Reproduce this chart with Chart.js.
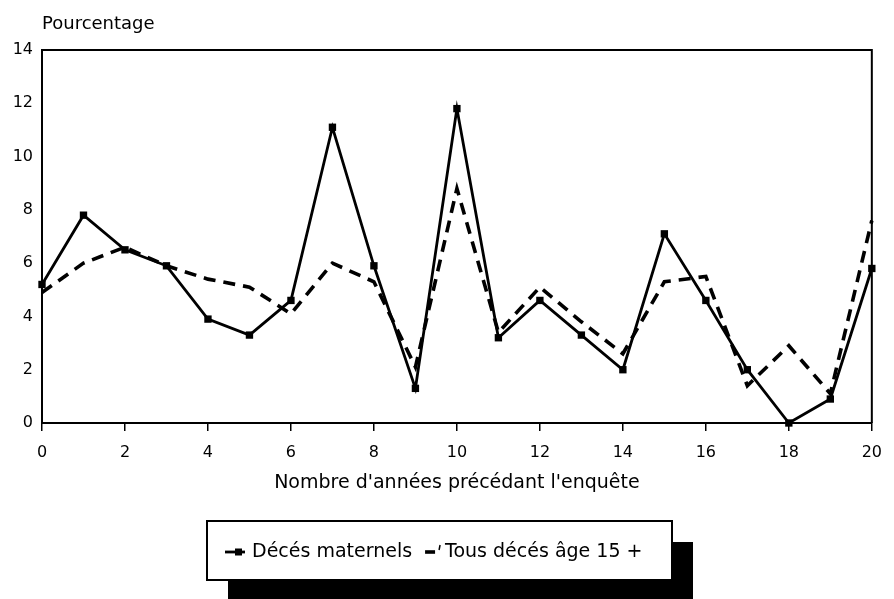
<!DOCTYPE html>
<html>
<head>
<meta charset="utf-8">
<script src="https://cdn.jsdelivr.net/npm/chart.js@4.4.1/dist/chart.umd.min.js"></script>
<style>
html,body{margin:0;padding:0;background:#fff;}
#wrap{width:894px;height:599px;position:relative;}
</style>
</head>
<body>
<div id="wrap"><canvas id="c"></canvas></div>
<script>
// ---- data ----
const years = [0,1,2,3,4,5,6,7,8,9,10,11,12,13,14,15,16,17,18,19,20];
const maternalDeaths = [5.2,7.8,6.5,5.9,3.9,3.3,4.6,11.1,5.9,1.3,11.8,3.2,4.6,3.3,2.0,7.1,4.6,2.0,0.0,0.9,5.8];
const allDeaths15 = [4.9,6.0,6.6,5.9,5.4,5.1,4.1,6.0,5.3,2.1,8.8,3.4,5.1,3.8,2.6,5.3,5.5,1.4,2.9,1.1,7.6];
const xTickValues = [0,2,4,6,8,10,12,14,16,18,20];
const yTickValues = [0,2,4,6,8,10,12,14];
const seriesLabels = ['Décés maternels', 'Tous décés âge 15 +'];
const yAxisTitle = 'Pourcentage';
const xAxisTitle = "Nombre d'années précédant l'enquête";

const FONT = 'DejaVu Sans';

const framePlugin = {
  id: 'frame',
  afterDraw(chart) {
    const {ctx, chartArea: a} = chart;
    ctx.save();
    ctx.strokeStyle = '#000';
    ctx.lineWidth = 2;
    ctx.beginPath();
    ctx.moveTo(a.left, a.top);
    ctx.lineTo(a.right, a.top);
    ctx.lineTo(a.right, a.bottom);
    ctx.stroke();
    // y axis title above the axis
    ctx.fillStyle = '#000';
    ctx.font = '18px "' + FONT + '"';
    ctx.textAlign = 'left';
    ctx.textBaseline = 'middle';
    ctx.fillText(yAxisTitle, a.left, 24);

    // legend box with shadow
    const bx = 207, by = 521, bw = 465, bh = 59, off = 21;
    ctx.fillStyle = '#000';
    ctx.fillRect(bx + off, by + off, bw, bh);
    ctx.fillStyle = '#fff';
    ctx.fillRect(bx, by, bw, bh);
    ctx.strokeStyle = '#000';
    ctx.lineWidth = 2;
    ctx.strokeRect(bx, by, bw, bh);

    const ds = chart.data.datasets;
    const ly = 552;
    ctx.font = '19px "' + FONT + '"';
    ctx.textBaseline = 'middle';
    let x = 225;
    // item 1
    ctx.strokeStyle = ds[0].borderColor;
    ctx.lineWidth = ds[0].borderWidth;
    ctx.setLineDash([]);
    ctx.beginPath(); ctx.moveTo(x, ly); ctx.lineTo(x + 20, ly); ctx.stroke();
    ctx.fillStyle = '#000';
    ctx.fillRect(x + 10, ly - 3.5, 7, 7);
    ctx.fillText(ds[0].label, x + 27, ly);
    x = x + 27 + ctx.measureText(ds[0].label).width + 13;
    // item 2
    ctx.strokeStyle = ds[1].borderColor;
    ctx.lineWidth = ds[1].borderWidth;
    ctx.setLineDash([]);
    ctx.beginPath(); ctx.moveTo(x, ly); ctx.lineTo(x + 10, ly); ctx.stroke();
    ctx.lineWidth = 1.5;
    ctx.beginPath(); ctx.moveTo(x + 15, ly - 7); ctx.lineTo(x + 14, ly - 2); ctx.stroke();
    ctx.fillText(ds[1].label, x + 20, ly);
    ctx.restore();
  }
};

new Chart(document.getElementById('c'), {
  type: 'line',
  data: {
    labels: years,
    datasets: [
      {
        label: seriesLabels[0],
        data: years.map((y, i) => ({x: y, y: maternalDeaths[i]})),
        borderColor: '#000',
        backgroundColor: '#000',
        borderWidth: 2.8,
        pointStyle: 'rect',
        pointRadius: 5.2,
        pointBorderWidth: 0,
        pointBackgroundColor: '#000',
        tension: 0,
        clip: false
      },
      {
        label: seriesLabels[1],
        data: years.map((y, i) => ({x: y, y: allDeaths15[i]})),
        borderColor: '#000',
        backgroundColor: '#000',
        borderWidth: 3.6,
        borderDash: [12, 8],
        pointRadius: 0,
        tension: 0,
        clip: false
      }
    ]
  },
  options: {
    responsive: true,
    maintainAspectRatio: false,
    animation: false,
    events: [],
    layout: {padding: {top: 50, right: 11, left: 0, bottom: 0}},
    plugins: {legend: {display: false}, tooltip: {enabled: false}, title: {display: false}},
    scales: {
      x: {
        type: 'linear',
        min: 0, max: 20,
        afterBuildTicks: (s) => { s.ticks = xTickValues.map(v => ({value: v})); },
        afterFit: (s) => { s.height = 176; },
        grid: {drawOnChartArea: false, drawTicks: true, tickLength: 8, color: '#000', lineWidth: 1.5},
        border: {display: true, color: '#000', width: 2},
        ticks: {color: '#000', font: {family: FONT, size: 16}, padding: 12, maxRotation: 0, autoSkip: false},
        title: {display: true, text: xAxisTitle, color: '#000', font: {family: FONT, size: 19}, padding: {top: 0, bottom: 105}}
      },
      y: {
        min: 0, max: 14,
        afterBuildTicks: (s) => { s.ticks = yTickValues.map(v => ({value: v})); },
        afterFit: (s) => { s.width = 42; },
        grid: {drawOnChartArea: false, drawTicks: false, tickLength: 0},
        border: {display: true, color: '#000', width: 2},
        ticks: {color: '#000', font: {family: FONT, size: 16}, padding: 9, autoSkip: false}
      }
    }
  },
  plugins: [framePlugin]
});
</script>
</body>
</html>
